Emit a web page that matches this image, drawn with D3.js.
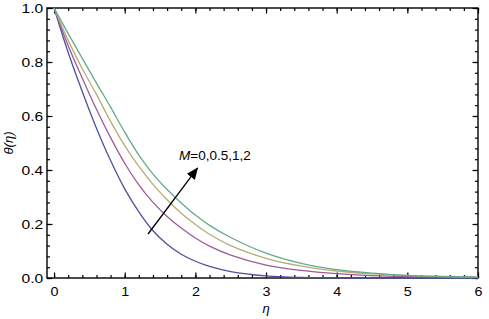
<!DOCTYPE html>
<html>
<head>
<meta charset="utf-8">
<script src="https://cdn.jsdelivr.net/npm/d3@7"></script>
<style>
  body { margin: 0; background: #fff; }
  svg text { font-family: "Liberation Sans", Arial, sans-serif; }
</style>
</head>
<body>
<div id="chart"></div>
<script>
// eta values shared by all curves
let eta = [0, 0.2, 0.4, 0.6, 0.8, 1.0, 1.2, 1.4, 1.6, 1.8, 2.0, 2.2, 2.5, 3.0, 3.5, 4.0, 4.5, 5.0, 5.5, 6.0];

// theta(eta), one array per M
let thetaM0   = [1, 0.835, 0.69, 0.555, 0.435, 0.33, 0.245, 0.175, 0.125, 0.088, 0.062, 0.043, 0.024, 0.008, 0.002, 0.0005, 0, 0, 0, 0];
let thetaM05  = [1, 0.86, 0.74, 0.625, 0.52, 0.425, 0.345, 0.28, 0.228, 0.185, 0.148, 0.118, 0.085, 0.048, 0.028, 0.016, 0.009, 0.005, 0.003, 0.002];
let thetaM1   = [1, 0.88, 0.775, 0.68, 0.58, 0.49, 0.413, 0.347, 0.29, 0.24, 0.198, 0.162, 0.12, 0.073, 0.044, 0.026, 0.015, 0.009, 0.005, 0.003];
let thetaM2   = [1, 0.905, 0.813, 0.722, 0.633, 0.54, 0.455, 0.385, 0.328, 0.278, 0.233, 0.195, 0.15, 0.092, 0.054, 0.031, 0.018, 0.01, 0.006, 0.003];

let seriesNames = ["M=0", "M=0.5", "M=1", "M=2"];
let xTicks = [0, 1, 2, 3, 4, 5, 6];
let yTicks = [0.0, 0.2, 0.4, 0.6, 0.8, 1.0];
let annotation = "=0,0.5,1,2";
let arrowFrom = [1.33, 0.163];
let arrowTo = [2.03, 0.407];

let colors = ["#4f4f9e", "#9c5c98", "#b5ae74", "#64ab8c"];

drawChart();

function drawChart(){
    let width = 489, height = 319;
    let left = 47, right = 478, top = 8, bottom = 278;

    let svg = d3.create("svg")
        .attr("width", width)
        .attr("height", height);

    let x = d3.scaleLinear().domain([-0.1, 6.0]).range([left, right]);
    let y = d3.scaleLinear().domain([0, 1]).range([bottom, top]);

    let xMinor = d3.range(0, 6.001, 0.2);
    let yMinor = d3.range(0, 1.001, 0.04);

    // inward ticks on all four sides
    let tickAxis = (axis, tr, vals, size) => svg.append("g")
        .attr("transform", tr)
        .call(axis.tickValues(vals).tickSize(size).tickFormat(""))
        .call(g => g.select(".domain").remove())
        .call(g => g.selectAll(".tick line").attr("stroke", "#000").attr("stroke-width", 1.2));

    tickAxis(d3.axisTop(x), `translate(0,${bottom})`, xMinor, 3);
    tickAxis(d3.axisTop(x), `translate(0,${bottom})`, xTicks, 5.5);
    tickAxis(d3.axisBottom(x), `translate(0,${top})`, xMinor, 3);
    tickAxis(d3.axisBottom(x), `translate(0,${top})`, xTicks, 5.5);
    tickAxis(d3.axisRight(y), `translate(${left},0)`, yMinor, 3);
    tickAxis(d3.axisRight(y), `translate(${left},0)`, yTicks, 5.5);
    tickAxis(d3.axisLeft(y), `translate(${right},0)`, yMinor, 3);
    tickAxis(d3.axisLeft(y), `translate(${right},0)`, yTicks, 5.5);

    // frame
    svg.append("rect")
        .attr("x", left).attr("y", top)
        .attr("width", right - left).attr("height", bottom - top)
        .attr("fill", "none").attr("stroke", "#000").attr("stroke-width", 1.4);

    // tick labels (the source figure is stretched a little horizontally)
    svg.append("g")
        .attr("transform", `translate(0,${bottom})`)
        .call(d3.axisBottom(x).tickValues(xTicks).tickSize(0).tickPadding(9).tickFormat(d3.format("d")))
        .call(g => g.select(".domain").remove())
        .call(g => g.selectAll("text").attr("font-size", 12.5).attr("fill", "#000")
            .attr("font-family", "'Liberation Sans', Arial, sans-serif")
            .attr("transform", "scale(1.15,1)"));

    svg.append("g")
        .attr("transform", `translate(${left},0)`)
        .call(d3.axisLeft(y).tickValues(yTicks).tickSize(0).tickPadding(3).tickFormat(d3.format(".1f")))
        .call(g => g.select(".domain").remove())
        .call(g => g.selectAll("text").attr("font-size", 12.5).attr("fill", "#000")
            .attr("font-family", "'Liberation Sans', Arial, sans-serif")
            .attr("transform", "scale(1.25,1)"));

    // curves
    let series = [thetaM0, thetaM05, thetaM1, thetaM2];
    let line = d3.line()
        .x((d, i) => x(eta[i]))
        .y(d => y(d))
        .curve(d3.curveCatmullRom.alpha(0.5));

    svg.append("g")
        .selectAll("path")
        .data(series)
        .join("path")
            .attr("fill", "none")
            .attr("stroke", (d, i) => colors[i])
            .attr("stroke-width", 1.3)
            .attr("d", line)
        .append("title").text((d, i) => seriesNames[i]);

    // arrow
    svg.append("defs").append("marker")
        .attr("id", "head")
        .attr("viewBox", "0 0 12 10")
        .attr("refX", 11).attr("refY", 5)
        .attr("markerWidth", 12).attr("markerHeight", 10)
        .attr("markerUnits", "userSpaceOnUse")
        .attr("orient", "auto")
        .append("path")
            .attr("d", "M0,0 L12,5 L0,10 Z")
            .attr("fill", "#000");

    svg.append("line")
        .attr("x1", x(arrowFrom[0])).attr("y1", y(arrowFrom[1]))
        .attr("x2", x(arrowTo[0])).attr("y2", y(arrowTo[1]))
        .attr("stroke", "#000").attr("stroke-width", 1.3)
        .attr("marker-end", "url(#head)");

    let ann = svg.append("text")
        .attr("x", 179).attr("y", 160)
        .attr("font-size", 13.5)
        .attr("fill", "#000");
    ann.append("tspan").attr("font-style", "italic").text("M");
    ann.append("tspan").text(annotation);

    // axis titles
    svg.append("text")
        .attr("transform", `translate(13,${(top + bottom) / 2}) rotate(-90)`)
        .attr("text-anchor", "middle")
        .attr("font-size", 13)
        .attr("font-family", "'DejaVu Serif', serif")
        .attr("font-style", "italic")
        .text("θ(η)");

    svg.append("text")
        .attr("x", x(3)).attr("y", 313)
        .attr("text-anchor", "middle")
        .attr("font-size", 13)
        .attr("font-family", "'DejaVu Serif', serif")
        .attr("font-style", "italic")
        .text("η");

    document.getElementById("chart").appendChild(svg.node());
}
</script>
</body>
</html>
